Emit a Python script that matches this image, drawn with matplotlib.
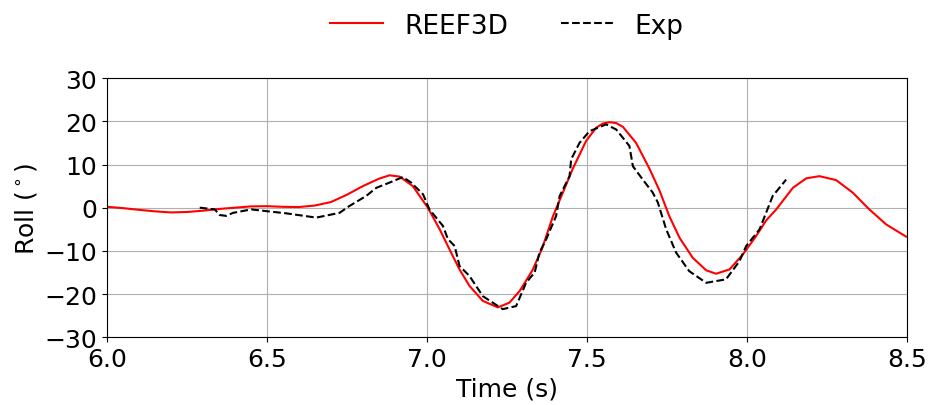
import matplotlib
matplotlib.use('Agg')
import matplotlib.pyplot as plt

# REEF3D simulation (red)
t_sim = [6.0, 6.05, 6.1, 6.15, 6.2, 6.25, 6.3, 6.35, 6.4, 6.45, 6.5, 6.55, 6.6,
         6.65, 6.7, 6.75, 6.8, 6.85, 6.883, 6.915, 6.956, 7.003, 7.04, 7.071,
         7.102, 7.133, 7.175, 7.222, 7.258, 7.29, 7.33, 7.36, 7.394, 7.425,
         7.456, 7.498, 7.529, 7.55, 7.571, 7.592, 7.613, 7.654, 7.696, 7.727,
         7.758, 7.79, 7.831, 7.873, 7.904, 7.946, 7.988, 8.029, 8.06, 8.092,
         8.144, 8.186, 8.227, 8.279, 8.331, 8.383, 8.436, 8.498]
roll_sim = [0.2, -0.1, -0.5, -0.85, -1.1, -1.0, -0.7, -0.3, 0.0, 0.3, 0.35, 0.2, 0.15,
            0.5, 1.3, 3.0, 5.0, 6.7, 7.5, 7.2, 5.0, 0.0, -5.0, -9.7,
            -14.3, -18.1, -21.6, -23.1, -22.0, -19.3, -14.5, -9.5, -2.0, 3.5,
            9.0, 15.5, 18.5, 19.5, 19.8, 19.6, 18.7, 15.0, 9.0, 4.0,
            -2.0, -7.0, -11.6, -14.5, -15.3, -14.3, -10.8, -6.6, -3.0, -0.4,
            4.6, 6.8, 7.3, 6.4, 3.5, -0.4, -3.9, -6.7]

# experiment (black dashed)
t_exp = [6.29, 6.337, 6.352, 6.373, 6.394, 6.451, 6.498, 6.56, 6.654, 6.727, 6.758,
         6.81, 6.842, 6.883, 6.925, 6.951, 6.988, 7.008, 7.05, 7.066, 7.087, 7.102,
         7.133, 7.175, 7.237, 7.279, 7.31, 7.337, 7.352, 7.373, 7.404, 7.415, 7.446,
         7.451, 7.477, 7.508, 7.56, 7.592, 7.633, 7.644, 7.675, 7.706, 7.722, 7.748,
         7.779, 7.82, 7.873, 7.935, 7.977, 7.998, 8.04, 8.081, 8.123]
roll_exp = [0.0, -0.4, -1.7, -1.9, -1.2, -0.4, -0.8, -1.3, -2.3, -1.2, 0.4,
            2.7, 4.6, 5.8, 7.1, 5.8, 3.1, -0.4, -4.2, -7.3, -8.9, -13.5,
            -15.8, -20.5, -23.5, -22.8, -17.4, -15.0, -10.4, -7.3, -1.9, 2.7, 7.3,
            11.2, 15.0, 17.7, 19.3, 18.1, 14.3, 9.6, 6.5, 3.5, 1.2, -5.0,
            -10.4, -14.7, -17.4, -16.6, -12.4, -8.9, -5.0, 2.7, 6.5]

plt.rcParams['font.size'] = 18

fig, ax = plt.subplots(figsize=(9.3, 4.06), dpi=100)
fig.subplots_adjust(left=0.115, right=0.975, top=0.805, bottom=0.167)

ax.plot(t_sim, roll_sim, color='red', lw=1.5, label='REEF3D')
ax.plot(t_exp, roll_exp, color='black', ls='--', lw=1.5, label='Exp')

ax.set_xlim(6.0, 8.5)
ax.set_ylim(-30, 30)
ax.set_xticks([6.0, 6.5, 7.0, 7.5, 8.0, 8.5])
ax.set_yticks([-30, -20, -10, 0, 10, 20, 30])
ax.set_xlabel('Time (s)')
ax.set_ylabel('Roll ($^\\circ$)')
ax.grid(True)
ax.legend(loc='upper center', bbox_to_anchor=(0.5, 1.345), ncol=2, frameon=False,
          fontsize=19)

plt.savefig('out.png', dpi=100)
